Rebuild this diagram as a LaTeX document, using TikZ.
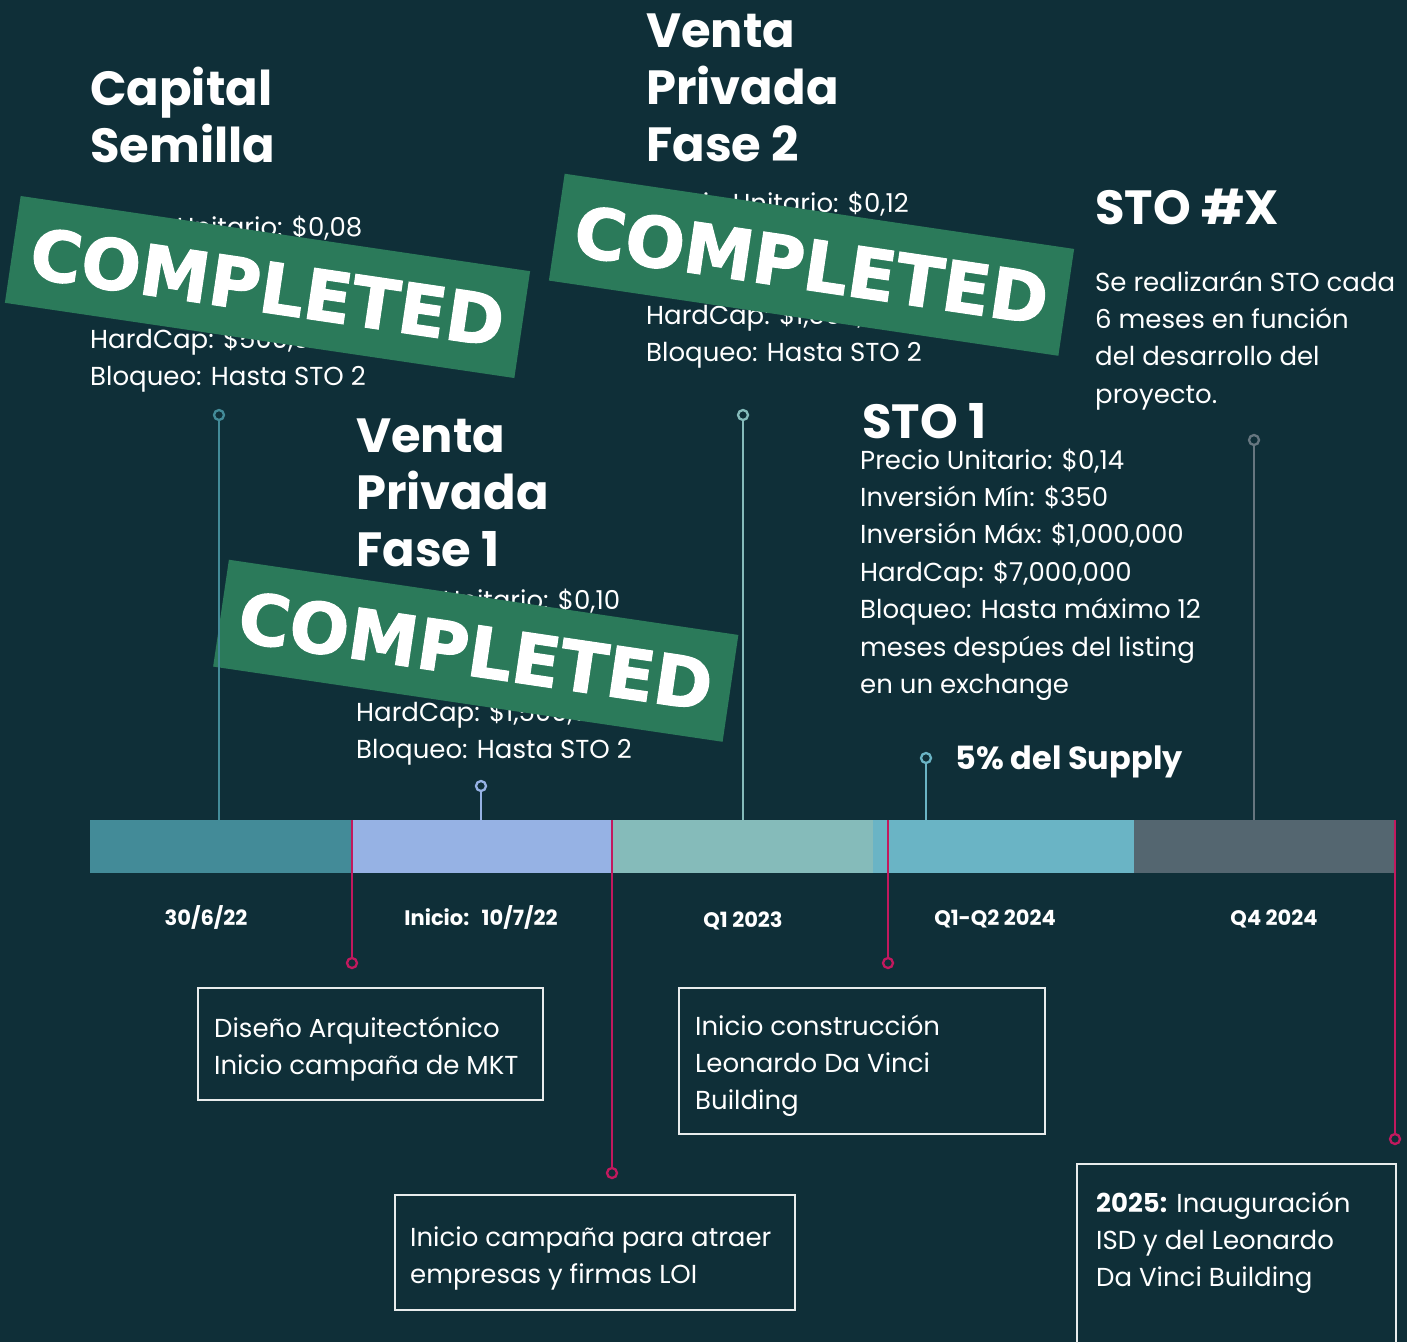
\documentclass[tikz,border=0pt]{standalone}
\usepackage{fontspec}
\setmainfont{Poppins}
\newfontfamily\stampfont{DejaVu Sans}[BoldFeatures={FakeBold=1.6}]
\usetikzlibrary{positioning}

\definecolor{bgteal}{HTML}{0F2F38}
\definecolor{segA}{HTML}{438B98}
\definecolor{segB}{HTML}{96B2E4}
\definecolor{segC}{HTML}{85BBBA}
\definecolor{segD}{HTML}{6AB4C5}
\definecolor{segE}{HTML}{546670}
\definecolor{greyline}{HTML}{66767F}
\definecolor{magenta}{HTML}{C2195E}
\definecolor{stampgreen}{HTML}{2B7A5A}
\definecolor{boxwhite}{HTML}{E8ECEC}

\begin{document}
\begin{tikzpicture}[x=1pt,y=-1pt,node distance=0pt,
  head/.style={anchor=base west,align=left,inner sep=0pt,text=white,font=\fontsize{48}{57}\selectfont\bfseries},
  info/.style={anchor=base west,align=left,inner sep=0pt,text=white,font=\fontsize{26}{37.4}\selectfont},
  stamp/.style={fill=stampgreen,rotate=-8.4,minimum width=515pt,minimum height=108pt,inner sep=0pt,
    text=white,font=\stampfont\bfseries\fontsize{70}{70}\selectfont},
  seg/.style={minimum width=261pt,minimum height=53pt,inner sep=0pt,outer sep=0pt},
  date/.style={anchor=base,inner sep=0pt,text=white,font=\fontsize{21}{25}\selectfont\bfseries},
  pin/.style={circle,draw,line width=2.3pt,fill=bgteal,minimum size=10pt,inner sep=0pt},
  stem/.style={line width=2.3pt},
  box/.style={draw=boxwhite,line width=1.5pt,inner sep=0pt,anchor=north west}]

  \fill[bgteal] (0,0) rectangle (1407,1342);
  \useasboundingbox (0,0) rectangle (1407,1342);

  % phases above the bar (nodes sit on the baseline of their last line)
  \node[head] (cs) at (90,162) {Capital\\Semilla};
  \node[info] (csinfo) at (90,385.6) {Precio Unitario: \$0,08\\ \\ \\HardCap: \$500,000\\Bloqueo: Hasta STO 2};
  \node[head] (vp2) at (646,161) {Venta\\Privada\\Fase 2};
  \node[info] (vp2info) at (646,361.6) {Precio Unitario: \$0,12\\ \\ \\HardCap: \$1,500,000\\Bloqueo: Hasta STO 2};
  \node[head] (vp1) at (356,566) {Venta\\Privada\\Fase 1};
  \node[info] (vp1info) at (356,758.6) {Precio Unitario: \$0,10\\ \\ \\HardCap: \$1,500,000\\Bloqueo: Hasta STO 2};
  \node[head] (stox) at (1095,224) {STO \#X};
  \node[info] (stoxinfo) at (1095,403.2) {Se realizarán STO cada\\6 meses en función\\del desarrollo del\\proyecto.};
  \node[head] (sto1) at (862,438) {STO 1};
  \node[info] (sto1info) at (860,693.4) {Precio Unitario: \$0,14\\Inversión Mín: \$350\\Inversión Máx: \$1,000,000\\HardCap: \$7,000,000\\Bloqueo: Hasta máximo 12\\meses despúes del listing\\en un exchange};
  \node[anchor=base west,inner sep=0pt,text=white,font=\fontsize{32}{36}\selectfont\bfseries] (supply) at (955,769) {5\% del Supply};

  % stamps
  \node[stamp] (done1) at (267.5,287) {COMPLETED};
  \node[stamp] (done2) at (811.5,264.75) {COMPLETED};
  \node[stamp] (done3) at (475.75,650.75) {COMPLETED};

  % timeline bar
  \node[seg,fill=segA,anchor=north west] (seg1) at (90,820) {};
  \node[seg,fill=segB,right=of seg1] (seg2) {};
  \node[seg,fill=segC,right=of seg2] (seg3) {};
  \node[seg,fill=segD,right=of seg3] (seg4) {};
  \node[seg,fill=segE,right=of seg4] (seg5) {};

  \node[date] (d1) at (206,925) {30/6/22};
  \node[date] (d2) at (481,925) {Inicio:\ \ \,10/7/22};
  \node[date] (d3) at (743,927) {Q1 2023};
  \node[date] (d4) at (995,925) {Q1-Q2 2024};
  \node[date] (d5) at (1274,925) {Q4 2024};

  % pins above
  \node[pin,draw=segA] (c1) at (219,415) {};
  \node[pin,draw=segB] (c2) at (481,786) {};
  \node[pin,draw=segC] (c3) at (743,415) {};
  \node[pin,draw=segD] (c4) at (926,758) {};
  \node[pin,draw=greyline] (c5) at (1254,440) {};

  % pins below
  \node[pin,draw=magenta] (m1) at (352,963) {};
  \node[pin,draw=magenta] (m2) at (612,1173) {};
  \node[pin,draw=magenta] (m3) at (888,963) {};
  \node[pin,draw=magenta] (m4) at (1395,1139) {};

  \path[stem]
    (c1) edge[segA] (c1 |- seg1.north)
    (c2) edge[segB] (c2 |- seg2.north)
    (c3) edge[segC] (c3 |- seg3.north)
    (c4) edge[segD] (c4 |- seg4.north)
    (c5) edge[greyline] (c5 |- seg5.north)
    (m1) edge[magenta] (m1 |- seg1.north)
    (m2) edge[magenta] (m2 |- seg1.north)
    (m3) edge[magenta] (m3 |- seg1.north)
    (m4) edge[magenta] (m4 |- seg1.north);

  % boxes below
  \node[box,minimum width=345pt,minimum height=112pt] (b1) at (197,987) {};
  \node[info] (b1txt) at (214,1074.4) {Diseño Arquitectónico\\Inicio campaña de MKT};
  \node[box,minimum width=400pt,minimum height=115pt] (b2) at (394,1194) {};
  \node[info] (b2txt) at (410,1283.4) {Inicio campaña para atraer\\empresas y firmas LOI};
  \node[box,minimum width=366pt,minimum height=146pt] (b3) at (678,987) {};
  \node[info] (b3txt) at (695,1109.8) {Inicio construcción\\Leonardo Da Vinci\\Building};
  \node[box,minimum width=319pt,minimum height=200pt] (b4) at (1076,1163) {};
  \node[info] (b4txt) at (1096,1286.8) {\textbf{2025:} Inauguración\\ISD y del Leonardo\\Da Vinci Building};
\end{tikzpicture}
\end{document}
